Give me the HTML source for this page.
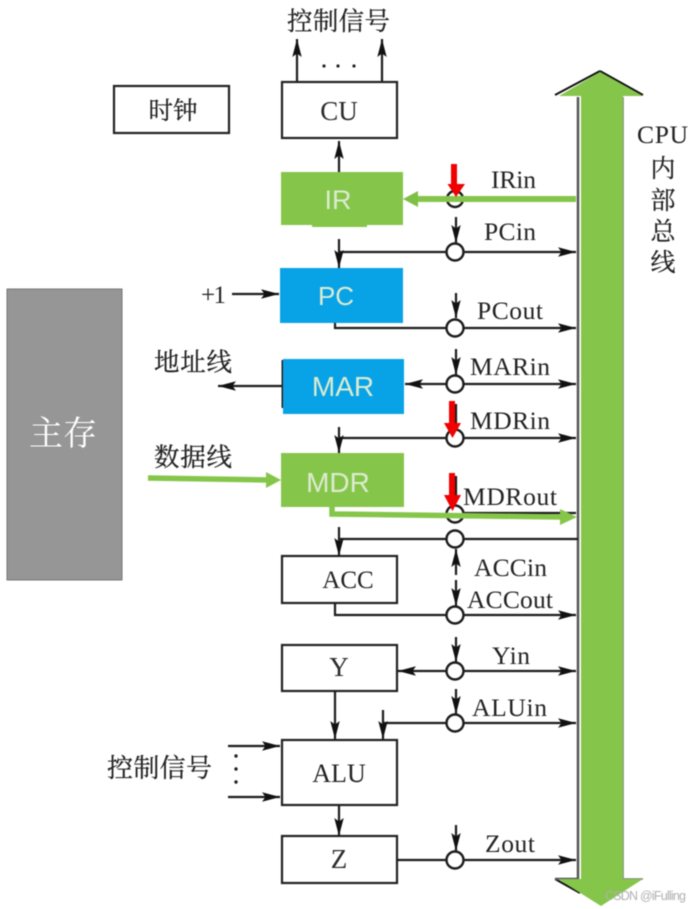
<!DOCTYPE html>
<html><head><meta charset="utf-8"><style>
html,body{margin:0;padding:0;background:#fff}
svg{display:block;filter:blur(.5px)}
text{font-family:"Liberation Serif","Noto Serif CJK SC",serif;fill:#222}
.l{font-size:25.5px}
.c{font-family:"Liberation Serif","Noto Serif CJK SC",serif;font-size:27px;fill:#2a2a2a}
.s{font-family:"Liberation Sans","Noto Sans CJK SC",sans-serif;fill:#dcebd0;text-anchor:middle}
.m{text-anchor:middle}
.w{fill:none;stroke:#1c1c1c;stroke-width:2.2}
.b{fill:#fff;stroke:#222;stroke-width:2.2}
.o{fill:#fff;stroke:#1c1c1c;stroke-width:2.4}
.k{stroke:#222;stroke-width:.25px}
</style></head><body>
<svg width="696" height="909" viewBox="0 0 696 909" xmlns="http://www.w3.org/2000/svg">
<defs>
<marker id="a" markerUnits="userSpaceOnUse" markerWidth="20" markerHeight="12" refX="18" refY="6" orient="auto"><path d="M0 1.300L18 6L0 10.700L3.500 6Z" fill="#111"/></marker>
</defs>
<rect width="696" height="909" fill="#fff"/>

<!-- main memory -->
<rect x="7" y="289" width="115" height="291" fill="#969696" stroke="#777" stroke-width="1"/>
<text x="63" y="445" class="m" style="font-size:34px;fill:#fff">主存</text>

<!-- bus -->
<path d="M555 95L600 71" stroke="#111" stroke-width="2" fill="none"/>
<path d="M600 71L643 95" stroke="#111" stroke-width="2" fill="none"/>
<path d="M555 879L580 893" stroke="#111" stroke-width="2" fill="none"/>
<path d="M578 97V879H555" stroke="#555" stroke-width="2.500" fill="none"/>
<path d="M623 97V879H643" stroke="#777" stroke-width="1.500" fill="none"/>
<path d="M600 72L643 96H623V879H643L601 906L558 879H581V96H559Z" fill="#85c64a"/>

<!-- top -->
<text x="287" y="30" class="k" style="font-size:25.500px" textLength="103">控制信号</text>
<path d="M297 82V39" class="w" marker-end="url(#a)"/>
<path d="M382 82V39" class="w" marker-end="url(#a)"/>
<circle cx="324" cy="66" r="1.600" fill="#222"/><circle cx="338" cy="66" r="1.600" fill="#222"/><circle cx="354" cy="66" r="1.600" fill="#222"/>
<rect x="282" y="82" width="115" height="56" class="b"/>
<text x="339" y="120" class="c m">CU</text>
<rect x="114" y="86" width="115" height="47" class="b"/>
<text x="173" y="119" class="m k" style="font-size:24.500px">时钟</text>

<!-- IR -->
<path d="M339 172V141" class="w" marker-end="url(#a)"/>
<path d="M281 172H403V225H367V227H312V225H281Z" fill="#85c64a"/>
<text x="338" y="209" class="s" style="font-size:27px">IR</text>
<circle cx="455" cy="199" r="8" class="o"/>
<path d="M576 199H415" stroke="#85c64a" stroke-width="6"/>
<path d="M403 199L418 191V207Z" fill="#7fbf46"/>
<text x="491" y="188" class="l" textLength="45">IRin</text>
<rect x="451" y="164" width="6" height="20" fill="#f00000"/>
<path d="M447.500 184H465L456 197Z" fill="#f00000"/>

<!-- PCin -->
<path d="M339 252H576" class="w" marker-end="url(#a)"/>
<path d="M339 239V268" class="w" marker-end="url(#a)"/>
<path d="M456 217V243" class="w" marker-end="url(#a)"/>
<circle cx="455" cy="252" r="8.500" class="o"/>
<text x="484" y="240" class="l" textLength="52">PCin</text>

<!-- PC -->
<rect x="280" y="268" width="123" height="55" fill="#08a3e6"/>
<text x="336" y="305" class="s" style="font-size:26px">PC</text>
<text x="201" y="303" style="font-size:25px" textLength="25">+1</text>
<path d="M232 294H279" class="w" marker-end="url(#a)"/>
<path d="M335 323V328H576" class="w" marker-end="url(#a)"/>
<path d="M456 293V318" class="w" marker-end="url(#a)"/>
<circle cx="455" cy="328" r="8.500" class="o"/>
<text x="477" y="319" class="l" textLength="66">PCout</text>

<!-- MAR -->
<rect x="281.500" y="360" width="2.500" height="48" fill="#222"/>
<rect x="283" y="359" width="121" height="55" fill="#08a3e6"/>
<text x="343" y="396" class="s" style="font-size:28px">MAR</text>
<text x="154" y="371" class="k" style="font-size:25.500px" textLength="78">地址线</text>
<path d="M282 386H218" class="w" marker-end="url(#a)"/>
<path d="M448 384H405" class="w" marker-end="url(#a)"/>
<path d="M462 384H576" class="w" marker-end="url(#a)"/>
<path d="M456 349V375" class="w" marker-end="url(#a)"/>
<circle cx="455" cy="384" r="8.500" class="o"/>
<text x="470" y="375" class="l" textLength="80">MARin</text>

<!-- MDRin -->
<path d="M339 438H576" class="w" marker-end="url(#a)"/>
<path d="M339 427V453" class="w" marker-end="url(#a)"/>
<path d="M456 404V429" class="w"/>
<circle cx="455" cy="438" r="8.500" class="o"/>
<rect x="449" y="401" width="6" height="24" fill="#f00000"/>
<path d="M444 423H461L452.500 438Z" fill="#f00000"/>
<text x="470" y="429" class="l" textLength="80">MDRin</text>

<!-- MDR -->
<rect x="281" y="453" width="123" height="54" fill="#85c64a"/>
<text x="338" y="492" class="s" style="font-size:28px">MDR</text>
<text x="154" y="466" class="k" style="font-size:25.500px" textLength="78">数据线</text>
<path d="M148 478L270 480" stroke="#85c64a" stroke-width="5.500"/>
<path d="M281 480L266 472V488Z" fill="#85c64a"/>

<!-- MDRout -->
<path d="M460 513H576" class="w"/>
<circle cx="455" cy="514" r="8.500" class="o"/>
<path d="M332 507V514L562 517" fill="none" stroke="#85c64a" stroke-width="5.500"/>
<path d="M577 517L560 509V525Z" fill="#85c64a"/>
<path d="M456 476V496" class="w"/>
<rect x="449" y="473" width="6" height="24" fill="#f00000"/>
<path d="M444 495H461L452.500 511Z" fill="#f00000"/>
<text x="463" y="505" class="l" textLength="94">MDRout</text>

<!-- ACC -->
<path d="M339 539H578" class="w"/>
<path d="M339 527V556" class="w" marker-end="url(#a)"/>
<circle cx="455" cy="539" r="8.500" class="o"/>
<path d="M456 575V549" class="w" marker-end="url(#a)"/>
<text x="474" y="576" class="l" textLength="73">ACCin</text>
<rect x="282" y="556" width="115" height="47" class="b"/>
<text x="348" y="588" class="m" style="font-size:25px">ACC</text>
<path d="M456 580V606" class="w" marker-end="url(#a)"/>
<path d="M335 603V615H576" class="w" marker-end="url(#a)"/>
<circle cx="455" cy="615" r="8.500" class="o"/>
<text x="467" y="608" class="l" textLength="86">ACCout</text>

<!-- Y -->
<rect x="282" y="645" width="115" height="46" class="b"/>
<text x="339" y="676" class="c m">Y</text>
<path d="M448 671H398" class="w" marker-end="url(#a)"/>
<path d="M462 671H576" class="w" marker-end="url(#a)"/>
<path d="M456 637V662" class="w" marker-end="url(#a)"/>
<circle cx="455" cy="671" r="8.500" class="o"/>
<text x="492" y="664" class="l" textLength="38">Yin</text>

<!-- ALUin -->
<path d="M383 723H576" class="w" marker-end="url(#a)"/>
<path d="M383 710V739" class="w" marker-end="url(#a)"/>
<path d="M456 689V714" class="w" marker-end="url(#a)"/>
<circle cx="455" cy="723" r="8.500" class="o"/>
<text x="472" y="716" class="l" textLength="75">ALUin</text>
<path d="M335 691V739" class="w" marker-end="url(#a)"/>

<!-- ALU -->
<rect x="282" y="740" width="115" height="65" class="b"/>
<text x="339" y="782" class="m" style="font-size:26px">ALU</text>
<text x="107" y="777" class="k" style="font-size:26px" textLength="105">控制信号</text>
<path d="M228 746H280" class="w" marker-end="url(#a)"/>
<path d="M228 797H280" class="w" marker-end="url(#a)"/>
<circle cx="236" cy="756" r="1.700" fill="#222"/><circle cx="236" cy="769" r="1.700" fill="#222"/><circle cx="236" cy="782" r="1.700" fill="#222"/>
<path d="M339 806V836" class="w" marker-end="url(#a)"/>

<!-- Z -->
<rect x="282" y="836" width="115" height="47" class="b"/>
<text x="339" y="868" class="c m">Z</text>
<path d="M397 860H576" class="w" marker-end="url(#a)"/>
<path d="M456 825V851" class="w" marker-end="url(#a)"/>
<circle cx="455" cy="860" r="8.500" class="o"/>
<text x="485" y="852" class="l" textLength="50">Zout</text>

<!-- side label -->
<text x="637" y="143" class="l" textLength="51">CPU</text>
<text x="663" y="177" class="m k" style="font-size:25px">内</text>
<text x="663" y="209" class="m k" style="font-size:25px">部</text>
<text x="663" y="240" class="m k" style="font-size:25px">总</text>
<text x="663" y="271" class="m k" style="font-size:25px">线</text>

<text x="605" y="900" style="font-family:'Liberation Sans',sans-serif;font-size:12.500px;fill:#b0b0b0" textLength="81">CSDN @iFulling</text>
</svg>
</body></html>
